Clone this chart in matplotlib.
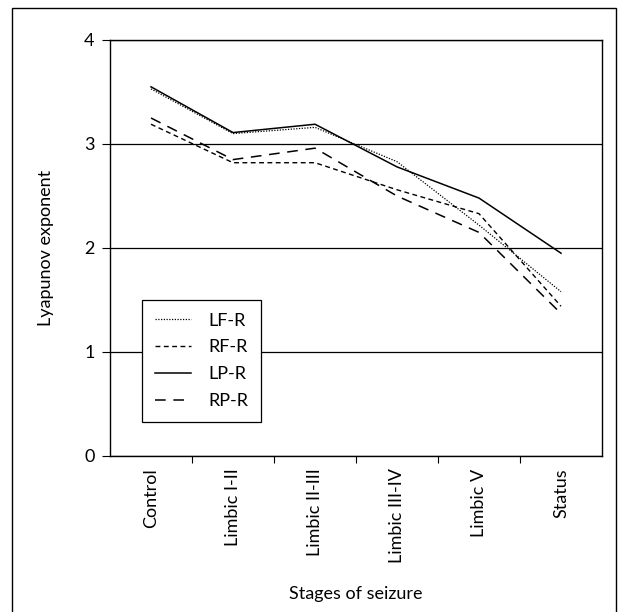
import matplotlib
matplotlib.use("Agg")
import matplotlib.pyplot as plt
from matplotlib.patches import Rectangle

stages = ["Control", "Limbic I-II", "Limbic II-III", "Limbic III-IV", "Limbic V", "Status"]
lf_r = [3.53, 3.10, 3.16, 2.83, 2.22, 1.58]
rf_r = [3.19, 2.82, 2.82, 2.56, 2.33, 1.44]
lp_r = [3.55, 3.11, 3.19, 2.78, 2.48, 1.95]
rp_r = [3.25, 2.85, 2.96, 2.50, 2.15, 1.37]

plt.rcParams["font.family"] = ["Lato", "DejaVu Sans"]

fig = plt.figure(figsize=(6.18, 6.12), dpi=100)
ax = fig.add_axes([110 / 618, 156 / 612, 492 / 618, 416 / 612])

x = list(range(len(stages)))
ax.plot(x, lf_r, color="black", lw=0.9, linestyle=(0, (1, 1.2)), label="LF-R")
ax.plot(x, rf_r, color="black", lw=1.0, linestyle=(0, (3.5, 2.5)), label="RF-R")
ax.plot(x, lp_r, color="black", lw=1.1, linestyle="-", label="LP-R")
ax.plot(x, rp_r, color="black", lw=1.1, linestyle=(0, (7, 5)), label="RP-R")

ax.set_xlim(-0.5, len(stages) - 0.5)
ax.set_ylim(0, 4)
ax.set_yticks([0, 1, 2, 3, 4])
ax.yaxis.grid(True, color="black", lw=0.9)
ax.set_axisbelow(True)

ax.set_xticks(x)
ax.set_xticklabels(stages, rotation=90, fontsize=13)
ax.tick_params(axis="x", which="major", length=0, pad=9)
ax.set_xticks([i + 0.5 for i in range(len(stages) - 1)], minor=True)
ax.tick_params(axis="x", which="minor", length=5, width=0.8, direction="out")
ax.tick_params(axis="y", length=6, width=0.8, direction="out", labelsize=13, pad=5)

for s in ax.spines.values():
    s.set_linewidth(1.0)

ax.set_ylabel("Lyapunov exponent", fontsize=13, labelpad=22)
ax.set_xlabel("Stages of seizure", fontsize=13, labelpad=16)

leg = ax.legend(loc="upper left", bbox_to_anchor=(32 / 492, (456 - 300) / 416),
                borderaxespad=0, fontsize=13, frameon=True, fancybox=False,
                handlelength=2.0, handletextpad=1.0, borderpad=0.7, labelspacing=0.6)
leg.get_frame().set_edgecolor("black")
leg.get_frame().set_linewidth(0.9)
leg.get_frame().set_alpha(1)

fig.patches.append(Rectangle((12 / 618, -0.05), 604 / 618, 1.05 - 8 / 612,
                             transform=fig.transFigure, fill=False,
                             edgecolor="black", lw=1.0, clip_on=False))

fig.savefig("out.png", dpi=100)
